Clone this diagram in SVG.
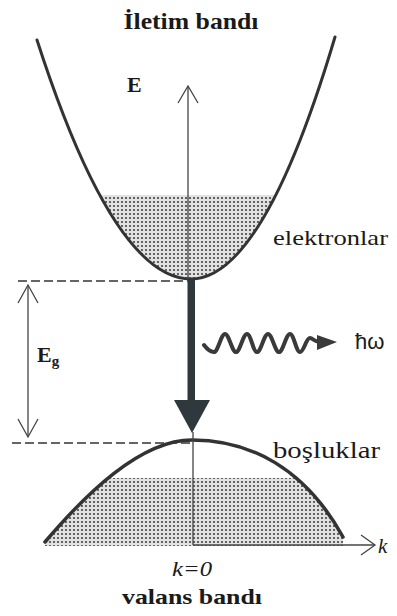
<svg xmlns="http://www.w3.org/2000/svg" width="397" height="616" viewBox="0 0 397 616">
<style>
.band{fill:none;stroke:#333;stroke-width:3;stroke-linecap:round}
.axis{fill:none;stroke:#444;stroke-width:1.3}
.dash{fill:none;stroke:#333;stroke-width:1.6;stroke-dasharray:9 4}
.bold{font-family:'Liberation Serif','DejaVu Serif',serif;font-weight:bold;fill:#1a1a1a}
.reg{font-family:'Liberation Serif','DejaVu Serif',serif;fill:#1a1a1a}
.ital{font-family:'Liberation Serif','DejaVu Serif',serif;font-style:italic;fill:#1a1a1a}
</style>
<defs>
<pattern id="dots" width="4" height="4" patternUnits="userSpaceOnUse">
<rect width="4" height="4" fill="#e2e2e2"/>
<circle cx="2" cy="2" r="1.1" fill="#444"/>
</pattern>
<clipPath id="cbClip"><path d="M37,40 Q114,279 191,279 Q263,279 335,37 Z"/></clipPath>
<clipPath id="vbClip"><path d="M45,542 C85,495 140,440 192,440 C250,440 305,468 343,537 L343,546 L45,546 Z"/></clipPath>
</defs>
<rect width="397" height="616" fill="#fff"/>

<g id="conduction-band">
<rect x="80" y="195" width="220" height="86" fill="url(#dots)" clip-path="url(#cbClip)"/>
<path class="band" d="M37,40 Q114,279 191,279 Q263,279 335,37"/>
</g>

<g id="valence-band">
<rect x="40" y="478" width="310" height="68" fill="url(#dots)" clip-path="url(#vbClip)"/>
<path class="band" style="stroke-width:3.5" d="M45,542 C85,495 140,440 192,440 C250,440 305,468 343,537"/>
</g>

<g id="connectors">
<line class="axis" x1="188" y1="86" x2="188" y2="279"/>
<polyline class="axis" points="178,103 188,86 198,103"/>
<line class="dash" x1="18" y1="281" x2="188" y2="281"/>
<line class="dash" x1="12" y1="443" x2="190" y2="443"/>
<line class="axis" x1="28" y1="285" x2="28" y2="437"/>
<polyline class="axis" points="18,303 28,285 38,303"/>
<polyline class="axis" points="18,419 28,437 38,419"/>
<line class="axis" x1="193" y1="432" x2="193" y2="545"/>
<line class="axis" x1="193" y1="545" x2="375" y2="545"/>
<polyline class="axis" points="361,535 375,545 361,555"/>
<rect x="187.5" y="280" width="7.5" height="122" fill="#2f383c"/>
<polygon points="174,400 210,400 192,433" fill="#2f383c"/>
<path d="M204,345 C207,349 210,352 214,352 C218,352 221,334 225,334 C229,334 232,352 236,352 C240,352 243,334 247,334 C251,334 253,352 257,352 C261,352 264,334 268,334 C272,334 275,352 279,352 C283,352 286,334 290,334 C294,334 296,352 300,352 C304,352 306,338 310,338 C313,338 314,342 320,342" fill="none" stroke="#3a3a3a" stroke-width="4" stroke-linecap="round" stroke-linejoin="round"/>
<polygon points="317,335 337,342 317,350" fill="#3a3a3a"/>
</g>

<g id="labels">
<text class="bold" x="191" y="29" font-size="23" text-anchor="middle" textLength="135" lengthAdjust="spacingAndGlyphs">İletim bandı</text>
<text class="bold" x="127" y="92" font-size="22">E</text>
<text class="reg" x="273" y="245" font-size="22" textLength="115" lengthAdjust="spacingAndGlyphs">elektronlar</text>
<text x="355" y="349" font-size="22" font-family="'Liberation Sans',sans-serif" fill="#1a1a1a">ħω</text>
<text class="bold" x="37" y="362" font-size="22">E<tspan font-size="15" dy="4">g</tspan></text>
<text class="reg" x="273" y="458" font-size="23" textLength="107" lengthAdjust="spacingAndGlyphs">boşluklar</text>
<text class="ital" x="378" y="553" font-size="21">k</text>
<text class="ital" x="172" y="576" font-size="21" textLength="40" lengthAdjust="spacingAndGlyphs">k=0</text>
<text class="bold" x="192" y="604" font-size="22" text-anchor="middle" textLength="140" lengthAdjust="spacingAndGlyphs">valans bandı</text>
</g>
</svg>
